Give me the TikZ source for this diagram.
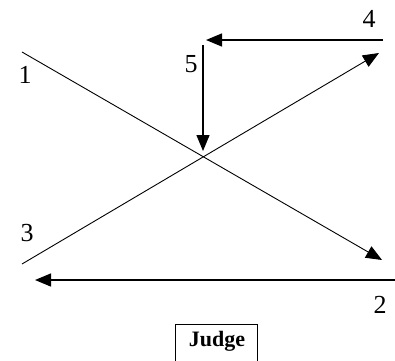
\documentclass[tikz,border=0pt]{standalone}
\usepackage{fontspec}
\setmainfont{Liberation Serif}
\usetikzlibrary{arrows.meta}
\begin{document}
\begin{tikzpicture}[x=1pt,y=1pt,
  solidarrow/.style={line width=1.4pt,-{Triangle[length=16pt,width=13pt]}},
  diagarrow/.style={line width=0.9pt,-{Triangle[length=16pt,width=13pt]}},
  numlabel/.style={font=\fontsize{26}{26}\selectfont,inner sep=0pt},
  judgebox/.style={draw,line width=1pt,minimum width=82pt,minimum height=40pt,anchor=north west,inner sep=0pt},
  judgetext/.style={font=\bfseries\fontsize{22}{22}\selectfont,inner sep=0pt}]
\useasboundingbox (0,0) rectangle (395,360);
% coordinates (y measured from bottom)
\coordinate (s1) at (22,308);
\coordinate (e1) at (382,100);
\coordinate (s3) at (22,96);
\coordinate (e3) at (379,307);
\coordinate (s4) at (383,320);
\coordinate (e4) at (206,320);
\coordinate (s5) at (203,315);
\coordinate (e5) at (203,209);
\coordinate (sb) at (395,80);
\coordinate (eb) at (35,80);
% connectors
\draw[diagarrow] (s1) -- (e1);
\draw[diagarrow] (s3) -- (e3);
\draw[solidarrow] (s4) -- (e4);
\draw[solidarrow] (s5) -- (e5);
\draw[solidarrow] (sb) -- (eb);
% labels
\node[numlabel] (l1) at (25,285) {1};
\node[numlabel] (l5) at (191,296) {5};
\node[numlabel] (l4) at (369,341) {4};
\node[numlabel] (l3) at (27,127) {3};
\node[numlabel] (l2) at (380,55) {2};
\begin{scope}
\clip (0,0) rectangle (395,360);
\node[judgebox] (judge) at (175,36) {};
\node[judgetext] (jt) at (217,19) {Judge};
\end{scope}
\end{tikzpicture}
\end{document}
